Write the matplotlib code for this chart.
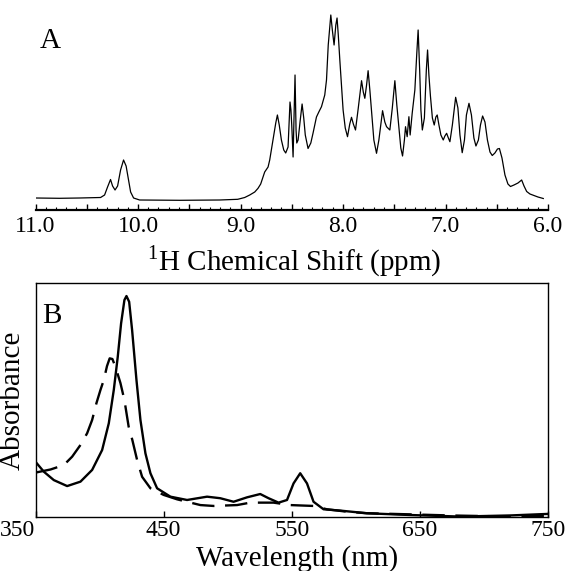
import numpy as np
import matplotlib
matplotlib.use("Agg")
import matplotlib.pyplot as plt
from matplotlib.ticker import MultipleLocator, FuncFormatter

plt.rcParams['font.family'] = ['Liberation Serif', 'DejaVu Serif']
plt.rcParams['mathtext.fontset'] = 'custom'
plt.rcParams['mathtext.rm'] = 'Liberation Serif'

# panel A: 1H NMR spectrum (ppm, intensity a.u.)
nmr_ppm = [11.000, 10.766, 10.570, 10.365, 10.326, 10.297, 10.268, 10.248, 10.224, 10.199,
           10.170, 10.141, 10.116, 10.092, 10.072, 10.043, 9.984, 9.594, 9.203, 9.027,
           8.959, 8.910, 8.861, 8.829, 8.803, 8.783, 8.764, 8.731, 8.715, 8.683,
           8.656, 8.640, 8.622, 8.601, 8.578, 8.559, 8.536, 8.524, 8.517, 8.508,
           8.500, 8.487, 8.478, 8.468, 8.458, 8.451, 8.438, 8.417, 8.399, 8.383,
           8.368, 8.341, 8.314, 8.292, 8.259, 8.236, 8.210, 8.178, 8.161, 8.144,
           8.119, 8.104, 8.087, 8.070, 8.058, 8.046, 8.031, 7.999, 7.978, 7.956,
           7.934, 7.917, 7.899, 7.878, 7.851, 7.819, 7.802, 7.787, 7.770, 7.755,
           7.738, 7.722, 7.699, 7.673, 7.650, 7.614, 7.592, 7.575, 7.543, 7.519,
           7.494, 7.475, 7.455, 7.436, 7.419, 7.401, 7.390, 7.374, 7.357, 7.345,
           7.325, 7.299, 7.281, 7.267, 7.252, 7.240, 7.226, 7.206, 7.187, 7.175,
           7.162, 7.147, 7.128, 7.110, 7.094, 7.081, 7.064, 7.045, 7.022, 7.006,
           6.989, 6.972, 6.957, 6.933, 6.901, 6.879, 6.859, 6.837, 6.815, 6.796,
           6.771, 6.747, 6.723, 6.703, 6.679, 6.659, 6.638, 6.615, 6.591, 6.566,
           6.544, 6.518, 6.493, 6.474, 6.449, 6.420, 6.391, 6.366, 6.332, 6.293,
           6.257, 6.234, 6.208, 6.176, 6.137, 6.098, 6.046]
nmr_int = [2, 1.7, 2, 2.5, 5, 13, 20.5, 14, 10, 14,
           30, 40, 34, 20, 8, 2, 0, -0.3, 0, 0.7,
           2.5, 5, 8, 11.7, 16, 22, 28, 33, 40, 60,
           77, 85, 75, 60, 50, 47, 53, 80, 98, 90,
           75, 43, 80, 125, 70, 57, 60, 80, 96, 82,
           65, 51.5, 57, 67, 83, 88, 93.3, 105, 120, 155,
           185, 170, 155, 175, 182, 165, 140, 90, 72, 63.3,
           76, 82.7, 76, 70, 92, 119.3, 108, 101.7, 115, 129.3,
           110, 90, 60, 46.7, 60, 89.3, 78, 73.3, 70, 92,
           119.3, 95, 73.3, 52, 44, 60, 73.3, 63.3, 83.3, 65,
           86.7, 110, 145, 170, 130, 90, 70, 82, 130, 150,
           125, 104, 82, 75, 83, 85, 75, 65, 60, 64,
           66.7, 62, 58.3, 75, 102.7, 92, 65, 47.3, 60, 85,
           96.7, 85, 62, 54, 60, 75, 84, 78, 60, 48,
           44.5, 47, 51, 51.5, 42, 25, 16, 13.5, 15, 17,
           20, 14, 8.5, 6, 4.5, 3, 1.5]

# panel B: UV-vis spectra (nm, absorbance normalised to solid Soret peak)
solid_nm = [350, 356.5, 364.3, 374.7, 385.1, 394.2, 402.0, 407.2, 411.1, 414.2,
            416.8, 419.4, 421.0, 423.1, 425.4, 428.8, 431.9, 435.8, 439.7, 444.9,
            455.3, 468.3, 483.9, 494.2, 504.6, 515.1, 525.4, 531.9, 539.7, 546.3,
            551.4, 556.6, 561.9, 567.0, 574.8, 587.8, 608.6, 642.4, 681.4, 720.4, 750]
solid_abs = [0.250, 0.205, 0.167, 0.140, 0.160, 0.213, 0.303, 0.424, 0.575, 0.725,
             0.876, 0.982, 1.000, 0.974, 0.846, 0.620, 0.439, 0.288, 0.198, 0.130,
             0.092, 0.077, 0.092, 0.085, 0.069, 0.089, 0.104, 0.085, 0.065, 0.077,
             0.152, 0.198, 0.152, 0.069, 0.035, 0.029, 0.017, 0.009, 0.002, 0.007, 0.014]

dash_nm = [350, 361.7, 372.1, 378.6, 385.1, 390.3, 394.2, 397.6, 400.7, 403.3,
           405.8, 407.9, 410.0, 412.4, 416.3, 419.4, 422.7, 425.6, 429.3, 433.2,
           439.7, 450.0, 460.5, 478.7, 489.0, 507.3, 517.6, 535.8, 548.8, 567.0,
           577.4, 593.0, 608.6, 629.4, 673.6, 720.4, 750]
dash_abs = [0.201, 0.215, 0.235, 0.273, 0.326, 0.379, 0.439, 0.516, 0.575, 0.620,
            0.683, 0.718, 0.715, 0.680, 0.606, 0.529, 0.409, 0.348, 0.258, 0.182,
            0.130, 0.100, 0.080, 0.054, 0.050, 0.054, 0.065, 0.065, 0.054, 0.050,
            0.035, 0.024, 0.017, 0.014, 0.007, 0.002, 0.005]

nm_ticks = [350, 450, 550, 650, 750]

W, H = 567, 571
fig = plt.figure(figsize=(W / 100, H / 100), dpi=100)

# ---- panel A
axA = fig.add_axes([35.5 / W, 1 - 210 / H, 512.5 / W, 200 / H])
axA.plot(nmr_ppm, nmr_int, color='black', lw=0.9)
axA.set_xlim(11.0, 6.0)
axA.set_ylim(-10, 190)
for s in ['top', 'left', 'right']:
    axA.spines[s].set_visible(False)
axA.spines['bottom'].set_linewidth(1.6)
axA.set_yticks([])
axA.xaxis.set_major_locator(MultipleLocator(0.5))
axA.xaxis.set_minor_locator(MultipleLocator(0.1))
axA.xaxis.set_major_formatter(FuncFormatter(
    lambda v, p: f"{v:.1f}" if abs(v - round(v)) < 1e-6 else ""))
axA.tick_params(axis='x', which='major', direction='in', length=4, width=1,
                labelsize=17, pad=4)
axA.tick_params(axis='x', which='minor', direction='in', length=2, width=0.8)
axA.set_xlabel(r'$^{\mathrm{1}}$H Chemical Shift (ppm)', fontsize=21)
axA.xaxis.set_label_coords(0.505, -0.165)
axA.text(0.008, 0.81, 'A', transform=axA.transAxes, fontsize=21)

# ---- panel B
axB = fig.add_axes([35.5 / W, 1 - 517 / H, 512.5 / W, 234 / H])
axB.plot(solid_nm, solid_abs, color='black', lw=1.7)
axB.plot(dash_nm, dash_abs, color='black', lw=1.7, linestyle=(0, (9.5, 4.5)))
axB.set_xlim(350, 750)
axB.set_ylim(0, 1.059)
axB.set_yticks([])
axB.set_xticks(nm_ticks)
axB.set_xticklabels([str(t) for t in nm_ticks])
axB.get_xticklabels()[0].set_ha('right')
for s in axB.spines.values():
    s.set_linewidth(1.0)
axB.tick_params(axis='x', direction='in', length=4, width=1, labelsize=17, pad=2)
axB.set_xlabel('Wavelength (nm)', fontsize=21)
axB.xaxis.set_label_coords(0.51, -0.12)
axB.set_ylabel('Absorbance', fontsize=21)
axB.yaxis.set_label_coords(-0.02, 0.5)
axB.text(0.013, 0.83, 'B', transform=axB.transAxes, fontsize=21)

fig.savefig('out.png', dpi=100)
